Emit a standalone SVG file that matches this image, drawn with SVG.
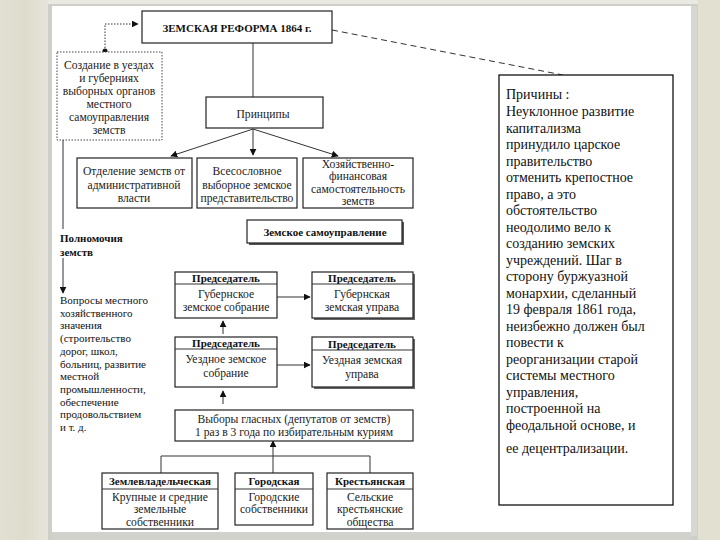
<svg xmlns="http://www.w3.org/2000/svg" width="720" height="540" viewBox="0 0 720 540" font-family="Liberation Serif, Times New Roman, serif">
<defs>
<linearGradient id="bgL" x1="0" y1="0" x2="1" y2="0">
<stop offset="0" stop-color="#e2e0d2"/>
<stop offset="0.5" stop-color="#dedccd"/>
<stop offset="1" stop-color="#e6e5da"/>
</linearGradient>
<marker id="ar" viewBox="0 0 10 10" refX="9" refY="5" markerWidth="7" markerHeight="7" orient="auto" markerUnits="userSpaceOnUse">
<path d="M0,0 L10,5 L0,10 z" fill="#111"/>
</marker>
<style>
text{font-family:'Liberation Serif','Times New Roman',serif}
.bx{fill:#fff;stroke:#222;stroke-width:1.2}
.ln{fill:none;stroke:#333;stroke-width:1}
.t{font-size:11.6px;fill:#1a1a1a;text-anchor:middle}
.tb{font-size:11px;fill:#111;text-anchor:middle;font-weight:bold}
.tl{font-size:11px;fill:#111}
.tr{font-size:14px;fill:#111}
</style>
</defs>
<rect x="0" y="0" width="720" height="540" fill="#e2e0d1"/>
<rect x="0" y="0" width="50" height="540" fill="url(#bgL)"/>
<rect x="48" y="0" width="650" height="6" fill="#e9e9e2"/>
<rect x="48" y="4" width="650" height="536" fill="#cfcfca"/>
<rect x="52" y="6" width="639" height="526" fill="#ffffff"/>
<rect x="691" y="6" width="6" height="530" fill="#d8d8d2"/>
<rect x="52" y="532" width="639" height="8" fill="#d2d2cc"/>

<g id="connectors">
<polyline class="ln" points="105,51 105,24 138,24" stroke-dasharray="1.5,1.5" marker-end="url(#ar)"/>
<circle cx="105" cy="51" r="2.5" fill="#111"/>
<line class="ln" x1="332" y1="30" x2="563" y2="75" stroke-dasharray="6,4" stroke="#222"/>
<line class="ln" x1="253" y1="43" x2="253" y2="97"/>
<line class="ln" x1="253" y1="129" x2="171" y2="156" marker-end="url(#ar)"/>
<line class="ln" x1="253" y1="129" x2="253" y2="155" marker-end="url(#ar)"/>
<line class="ln" x1="253" y1="129" x2="338" y2="156" marker-end="url(#ar)"/>
<line class="ln" x1="63" y1="140" x2="63" y2="229"/>
<line class="ln" x1="63" y1="258" x2="63" y2="293" marker-end="url(#ar)"/>
<line class="ln" x1="277" y1="297" x2="310" y2="297" marker-end="url(#ar)"/>
<line class="ln" x1="277" y1="365" x2="310" y2="365" marker-end="url(#ar)"/>
<line class="ln" x1="223" y1="334" x2="223" y2="321" marker-end="url(#ar)"/>
<line class="ln" x1="223" y1="404" x2="223" y2="391" marker-end="url(#ar)"/>
<polyline class="ln" points="161,473 161,456 370,456 370,473"/>
<line class="ln" x1="273" y1="473" x2="273" y2="441" marker-end="url(#ar)"/>
</g>

<g id="title">
<rect class="bx" x="142" y="11" width="190" height="32"/>
<text class="tb" x="237" y="32" font-size="14">ЗЕМСКАЯ РЕФОРМА 1864 г.</text>
</g>

<g id="creation">
<rect x="57" y="52" width="105" height="88" fill="#fff" stroke="#444" stroke-width="1" stroke-dasharray="1.5,1.5"/>
<text class="t" x="109" y="69" font-size="10.8">Создание в уездах</text>
<text class="t" x="109" y="82" font-size="10.8">и губерниях</text>
<text class="t" x="109" y="95" font-size="10.8">выборных органов</text>
<text class="t" x="109" y="108" font-size="10.8">местного</text>
<text class="t" x="109" y="121" font-size="10.8">самоуправления</text>
<text class="t" x="109" y="134" font-size="10.8">земств</text>
</g>

<g id="principles">
<rect class="bx" x="206" y="97" width="117" height="31"/>
<text class="t" x="263" y="118" font-size="14">Принципы</text>
</g>

<g id="p1">
<rect class="bx" x="77" y="158" width="115" height="50"/>
<text class="t" x="134" y="175">Отделение земств от</text>
<text class="t" x="134" y="188.5">административной</text>
<text class="t" x="134" y="202">власти</text>
</g>
<g id="p2">
<rect class="bx" x="197" y="158" width="100" height="50"/>
<text class="t" x="247" y="175">Всесословное</text>
<text class="t" x="247" y="188.5">выборное земское</text>
<text class="t" x="247" y="202">представительство</text>
</g>
<g id="p3">
<rect class="bx" x="303" y="158" width="110" height="50"/>
<text class="t" x="358" y="167.5" font-size="10.8">Хозяйственно-</text>
<text class="t" x="358" y="180" font-size="10.8">финансовая</text>
<text class="t" x="358" y="192.5" font-size="10.8">самостоятельность</text>
<text class="t" x="358" y="205" font-size="10.8">земств</text>
</g>

<g id="self-gov">
<rect x="249" y="222" width="155" height="23" fill="#555"/>
<rect class="bx" x="247" y="220" width="155" height="23"/>
<text class="tb" x="325" y="236" font-size="12.5">Земское самоуправление</text>
</g>

<g id="powers">
<text class="tl" x="60" y="242" font-weight="bold" font-size="11.5">Полномочия</text>
<text class="tl" x="60" y="255.5" font-weight="bold" font-size="11.5">земств</text>
</g>

<g id="questions">
<text class="tl" x="60" y="304">Вопросы местного</text>
<text class="tl" x="60" y="316.7">хозяйственного</text>
<text class="tl" x="60" y="329.4">значения</text>
<text class="tl" x="60" y="342.1">(строительство</text>
<text class="tl" x="60" y="354.8">дорог, школ,</text>
<text class="tl" x="60" y="367.5">больниц, развитие</text>
<text class="tl" x="60" y="380.2">местной</text>
<text class="tl" x="60" y="392.9">промышленности,</text>
<text class="tl" x="60" y="405.6">обеспечение</text>
<text class="tl" x="60" y="418.3">продовольствием</text>
<text class="tl" x="60" y="431">и т. д.</text>
</g>

<g id="gub-sobr">
<rect class="bx" x="175" y="272" width="102" height="46"/>
<line class="ln" x1="175" y1="284" x2="277" y2="284"/>
<text class="tb" x="226" y="281.5">Председатель</text>
<text class="t" x="226" y="297.5">Губернское</text>
<text class="t" x="226" y="311">земское собрание</text>
</g>
<g id="gub-uprava">
<rect x="314" y="274" width="101" height="46" fill="#666"/>
<rect class="bx" x="312" y="272" width="101" height="46"/>
<line class="ln" x1="312" y1="284" x2="413" y2="284"/>
<text class="tb" x="362" y="281.5">Председатель</text>
<text class="t" x="362" y="297.5">Губернская</text>
<text class="t" x="362" y="311">земская управа</text>
</g>
<g id="uezd-sobr">
<rect class="bx" x="175" y="337" width="102" height="50"/>
<line class="ln" x1="175" y1="349" x2="277" y2="349"/>
<text class="tb" x="226" y="346.5">Председатель</text>
<text class="t" x="226" y="363">Уездное земское</text>
<text class="t" x="226" y="376.5">собрание</text>
</g>
<g id="uezd-uprava">
<rect x="314" y="339" width="101" height="50" fill="#666"/>
<rect class="bx" x="312" y="337" width="101" height="50"/>
<line class="ln" x1="312" y1="350" x2="413" y2="350"/>
<text class="tb" x="362" y="347.5">Председатель</text>
<text class="t" x="362" y="364">Уездная земская</text>
<text class="t" x="362" y="377.5">управа</text>
</g>

<g id="elections">
<rect class="bx" x="175" y="410" width="238" height="31"/>
<text class="t" x="294" y="422.5" font-size="11.8">Выборы гласных (депутатов от земств)</text>
<text class="t" x="294" y="436" font-size="11.8">1 раз в 3 года по избирательным куриям</text>
</g>

<g id="c1">
<rect class="bx" x="102" y="473" width="116" height="56"/>
<line class="ln" x1="102" y1="489" x2="218" y2="489"/>
<text class="tb" x="160" y="485" font-size="10">Землевладельческая</text>
<text class="t" x="160" y="500.5" font-size="10.8">Крупные и средние</text>
<text class="t" x="160" y="513" font-size="10.8">земельные</text>
<text class="t" x="160" y="525.5" font-size="10.8">собственники</text>
</g>
<g id="c2">
<rect class="bx" x="235" y="473" width="78" height="52"/>
<line class="ln" x1="235" y1="489" x2="313" y2="489"/>
<text class="tb" x="274" y="485" font-size="10">Городская</text>
<text class="t" x="274" y="500.5" font-size="10.8">Городские</text>
<text class="t" x="274" y="513" font-size="10.8">собственники</text>
</g>
<g id="c3">
<rect class="bx" x="327" y="473" width="86" height="56"/>
<line class="ln" x1="327" y1="489" x2="413" y2="489"/>
<text class="tb" x="370" y="485" font-size="10">Крестьянская</text>
<text class="t" x="370" y="500.5" font-size="10.8">Сельские</text>
<text class="t" x="370" y="513" font-size="10.8">крестьянские</text>
<text class="t" x="370" y="525.5" font-size="10.8">общества</text>
</g>

<g id="reasons">
<rect x="499" y="75" width="174" height="430" fill="#fff" stroke="#111" stroke-width="1.3"/>
<text class="tr" x="506" y="99">Причины :</text>
<text class="tr" x="506" y="116">Неуклонное развитие</text>
<text class="tr" x="506" y="132.5">капитализма</text>
<text class="tr" x="506" y="149">принудило царское</text>
<text class="tr" x="506" y="165.5">правительство</text>
<text class="tr" x="506" y="182">отменить крепостное</text>
<text class="tr" x="506" y="198.5">право, а это</text>
<text class="tr" x="506" y="215">обстоятельство</text>
<text class="tr" x="506" y="231.5">неодолимо вело к</text>
<text class="tr" x="506" y="248">созданию земских</text>
<text class="tr" x="506" y="264.5">учреждений. Шаг в</text>
<text class="tr" x="506" y="281">сторону буржуазной</text>
<text class="tr" x="506" y="297.5">монархии, сделанный</text>
<text class="tr" x="506" y="314">19 февраля 1861 года,</text>
<text class="tr" x="506" y="330.5">неизбежно должен был</text>
<text class="tr" x="506" y="347">повести к</text>
<text class="tr" x="506" y="363.5">реорганизации старой</text>
<text class="tr" x="506" y="380">системы местного</text>
<text class="tr" x="506" y="396.5">управления,</text>
<text class="tr" x="506" y="413">построенной на</text>
<text class="tr" x="506" y="429.5">феодальной основе, и</text>
<text class="tr" x="506" y="453">ее децентрализации.</text>
</g>
</svg>
